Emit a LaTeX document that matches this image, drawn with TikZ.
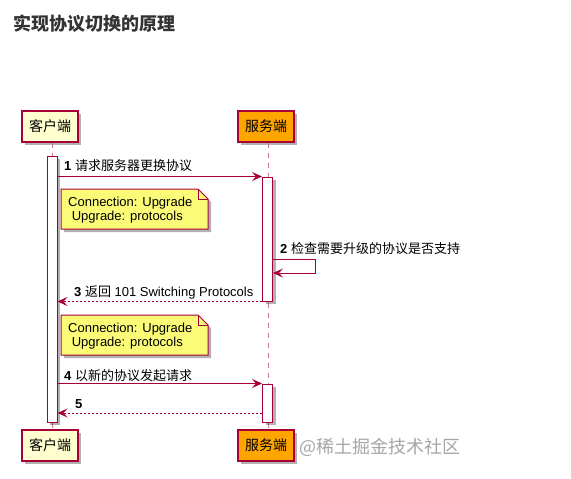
\documentclass[tikz,border=0pt]{standalone}
\usepackage{fontspec}
\setmainfont{Liberation Sans}
\newfontfamily\cjk{Noto Sans CJK SC}
\usetikzlibrary{arrows.meta,shadows}
\definecolor{seqred}{HTML}{A80036}
\definecolor{partfill}{HTML}{FEFECE}
\definecolor{notefill}{HTML}{FBFB77}
\definecolor{srvfill}{HTML}{FFA500}
\tikzset{
    boxshadow/.style={drop shadow={shadow xshift=3pt,shadow yshift=-3pt,opacity=0.3,fill=black}},
    participant/.style={draw=seqred,line width=1.3pt,fill=partfill,minimum width=56pt,minimum height=31pt,inner sep=0pt,font=\fontsize{14}{16}\selectfont\cjk,boxshadow},
    server/.style={participant,fill=srvfill},
    lifeline/.style={seqred!55,line width=0.9pt,dash pattern=on 5pt off 5pt},
    activation/.style={draw=seqred,fill=white,line width=1pt,minimum width=10pt,inner sep=0pt,boxshadow},
    message/.style={seqred,line width=1pt,-{Stealth[length=10pt,width=9pt,inset=4pt]}},
    reply/.style={message,dash pattern=on 2pt off 2pt},
    msglabel/.style={font=\fontsize{13}{15}\selectfont,inner sep=0pt,anchor=west},
    note/.style={draw=seqred,fill=notefill,line width=1pt,boxshadow},
    notetext/.style={font=\fontsize{13}{14.5}\selectfont,inner sep=0pt,anchor=west,align=left}
}
\begin{document}
\begin{tikzpicture}[x=1pt,y=-1pt]
\useasboundingbox[fill=white] (0,0) rectangle (571,479);
\node[anchor=west,inner sep=0pt,text=black!80,font=\fontsize{18}{20}\selectfont\cjk\bfseries] (title) at (13,24) {实现协议切换的原理};
\node[participant] (clienttop) at (50,126.5) {客户端};
\node[server] (servertop) at (266,126.5) {服务端};
\node[participant] (clientbot) at (50,445.5) {客户端};
\node[server] (serverbot) at (266,445.5) {服务端};
\draw[lifeline] ([xshift=2pt]clienttop.south) -- ([xshift=2pt]clientbot.north);
\draw[lifeline] ([xshift=2pt]servertop.south) -- ([xshift=2pt]serverbot.north);
\node[activation,minimum height=266pt] (clientact) at (52,289) {};
\node[activation,minimum height=124pt] (serveracta) at (267.5,239) {};
\node[activation,minimum height=38pt] (serveractb) at (267.5,403) {};
\draw[message] (clientact.east |- serveracta.north) -- (serveracta.north west);
\node[msglabel] (label1) at (64,166) {\textbf{1} {\cjk 请求服务器更换协议}};
\draw[note] (61,189) -- (198,189) -- (208,199) -- (208,229) -- (61,229) -- cycle;
\draw[seqred,line width=1pt] (198,189) -- (198,199) -- (208,199);
\node[notetext] (note1) at (68,210) {Connection: Upgrade\\\hspace{0.28em}Upgrade: protocols};
\draw[message] (serveracta.east |- 0,259) -- ++(42,0) -- ++(0,14) -- (serveracta.east |- 0,273);
\node[msglabel] (label2) at (280,249) {\textbf{2} {\cjk 检查需要升级的协议是否支持}};
\draw[reply] (serveracta.south west) -- (clientact.east |- serveracta.south);
\node[msglabel] (label3) at (74,292) {\textbf{3} {\cjk 返回} 101 Switching Protocols};
\draw[note] (61,315) -- (198,315) -- (208,325) -- (208,355) -- (61,355) -- cycle;
\draw[seqred,line width=1pt] (198,315) -- (198,325) -- (208,325);
\node[notetext] (note2) at (68,336) {Connection: Upgrade\\\hspace{0.28em}Upgrade: protocols};
\draw[message] (clientact.east |- serveractb.north) -- (serveractb.north west);
\node[msglabel] (label4) at (64,376) {\textbf{4} {\cjk 以新的协议发起请求}};
\draw[reply] (serveractb.west |- 0,413) -- (clientact.east |- 0,413);
\node[msglabel] (label5) at (75,404) {\textbf{5}};
\node[anchor=west,inner sep=0pt,text=black!35,font=\fontsize{18}{20}\selectfont\cjk] (watermark) at (299,447) {@稀土掘金技术社区};
\end{tikzpicture}
\end{document}
